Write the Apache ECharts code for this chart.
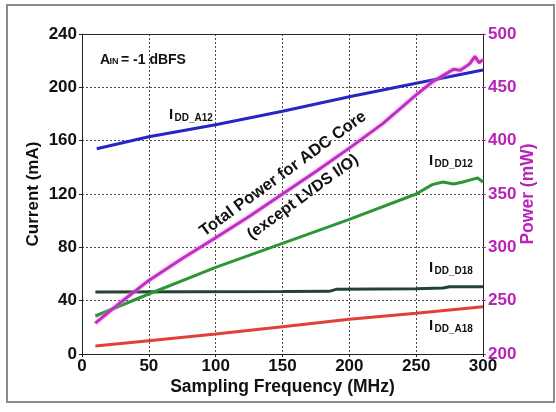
<!DOCTYPE html>
<html>
<head>
<meta charset="utf-8">
<script src="https://cdn.jsdelivr.net/npm/echarts@6/dist/echarts.min.js"></script>
<style>
html,body{margin:0;padding:0;background:#fff;}
#c{width:556px;height:412px;}
</style>
</head>
<body>
<div id="c"></div>
<script>
// ---- data ----
const xTicks = [0, 50, 100, 150, 200, 250, 300];
const currentTicks = [0, 40, 80, 120, 160, 200, 240];
const powerTicks = [200, 250, 300, 350, 400, 450, 500];

const freqA12 = [11, 50, 100, 150, 200, 250, 300];
const iddA12  = [154, 163, 172, 182, 193, 203, 213];

const freqD12 = [10, 50, 100, 150, 200, 250, 262, 270, 278, 285, 292, 296, 300];
const iddD12  = [28.5, 45, 65, 83, 101, 120, 127, 129, 127.5, 129, 131, 132, 129];

const freqD18 = [10, 150, 185, 190, 250, 270, 275, 300];
const iddD18  = [46.5, 46.8, 47, 48.5, 49, 49.5, 50.5, 50.5];

const freqA18 = [10, 50, 100, 150, 200, 250, 300];
const iddA18  = [6, 10, 15, 20.5, 26, 30.5, 35.5];

const freqPow = [10, 30, 50, 75, 100, 125, 150, 175, 200, 225, 250, 262, 270, 278, 283, 290, 294, 297, 300];
const power   = [229, 249.5, 269, 289.5, 309, 329, 350, 371, 393, 416, 443, 455, 461, 467, 466, 472, 479, 473, 476];

const pair = (xs, ys) => xs.map((x, i) => [x, ys[i]]);

const FONT = 'Liberation Sans';
const MAG = '#b824b8';
const GRIDLINE = {show: true, lineStyle: {color: '#4a4a4a', type: [2, 2], width: 1}};

const chart = echarts.init(document.getElementById('c'), null, {renderer: 'canvas'});

function subLabel(x, y, main, sub, size, subSize) {
  return {
    type: 'group', x: x, y: y,
    children: [
      {type: 'text', x: 0, y: 0, style: {text: main, font: 'bold ' + size + 'px "' + FONT + '"', fill: '#111', verticalAlign: 'middle', align: 'left'}},
      {type: 'text', x: size * 0.3 + 1, y: size * 0.22, style: {text: sub, font: 'bold ' + subSize + 'px "' + FONT + '"', fill: '#111', verticalAlign: 'middle', align: 'left'}}
    ]
  };
}

const deg = Math.PI / 180;

chart.setOption({
  animation: false,
  backgroundColor: '#fff',
  grid: {left: 82, right: 73, top: 34, bottom: 58},
  xAxis: [
    {
      type: 'value', min: 0, max: 300, interval: 50,
      name: 'Sampling Frequency (MHz)', nameLocation: 'middle', nameGap: 24, nameMoveOverlap: false,
      nameTextStyle: {fontFamily: FONT, fontWeight: 'bold', fontSize: 17.5, color: '#111'},
      axisLine: {show: true, onZero: false, lineStyle: {color: '#222', width: 1}},
      axisTick: {show: true, length: 3, inside: false, lineStyle: {color: '#222'}},
      axisLabel: {fontFamily: FONT, fontWeight: 'bold', fontSize: 17, color: '#111', margin: 4,
        formatter: v => xTicks.includes(v) ? String(v) : ''},
      splitLine: GRIDLINE
    },
    {
      type: 'value', min: 0, max: 300, interval: 50, position: 'top',
      axisLine: {show: true, onZero: false, lineStyle: {color: '#222', width: 1}},
      axisTick: {show: false}, axisLabel: {show: false}, splitLine: {show: false}
    }
  ],
  yAxis: [
    {
      type: 'value', min: 0, max: 240, interval: 40, position: 'left',
      name: 'Current (mA)', nameLocation: 'middle', nameGap: 40, nameRotate: 90, nameMoveOverlap: false,
      nameTextStyle: {fontFamily: FONT, fontWeight: 'bold', fontSize: 17, color: '#111'},
      axisLine: {show: true, onZero: false, lineStyle: {color: '#222', width: 1}},
      axisTick: {show: true, length: 3, lineStyle: {color: '#222'}},
      axisLabel: {fontFamily: FONT, fontWeight: 'bold', fontSize: 17, color: '#111', margin: 5,
        formatter: v => currentTicks.includes(v) ? String(v) : ''},
      splitLine: GRIDLINE
    },
    {
      type: 'value', min: 200, max: 500, interval: 50, position: 'right',
      name: 'Power (mW)', nameLocation: 'middle', nameGap: 36, nameRotate: 90, nameMoveOverlap: false,
      nameTextStyle: {fontFamily: FONT, fontWeight: 'bold', fontSize: 17.5, color: MAG},
      axisLine: {show: true, onZero: false, lineStyle: {color: '#222', width: 1}},
      axisTick: {show: true, length: 3, lineStyle: {color: MAG}},
      axisLabel: {fontFamily: FONT, fontWeight: 'bold', fontSize: 17, color: MAG, margin: 5,
        formatter: v => powerTicks.includes(v) ? String(v) : ''},
      splitLine: {show: false}
    }
  ],
  series: [
    {type: 'line', name: 'IDD_A18', data: pair(freqA18, iddA18), showSymbol: false, symbol: 'none',
      lineStyle: {color: '#e0403a', width: 3}},
    {type: 'line', name: 'IDD_D18', data: pair(freqD18, iddD18), showSymbol: false, symbol: 'none',
      lineStyle: {color: '#21452f', width: 3}},
    {type: 'line', name: 'IDD_D12', data: pair(freqD12, iddD12), showSymbol: false, symbol: 'none',
      lineStyle: {color: '#2c9636', width: 3}},
    {type: 'line', name: 'IDD_A12', data: pair(freqA12, iddA12), showSymbol: false, symbol: 'none',
      lineStyle: {color: '#2626c4', width: 3}},
    {type: 'line', name: 'Power', yAxisIndex: 1, data: pair(freqPow, power), showSymbol: false, symbol: 'none',
      lineStyle: {color: '#c030c0', width: 3, shadowColor: 'rgba(235,130,235,0.9)', shadowBlur: 3}}
  ],
  graphic: [
    {type: 'rect', shape: {x: 7, y: 5, width: 547, height: 397}, style: {fill: 'none', stroke: '#8a8a8a', lineWidth: 2}, silent: true},
    {type: 'group', x: 100, y: 60, children: [
      {type: 'text', x: 0, y: 0, style: {text: 'A', font: 'bold 14px "' + FONT + '"', fill: '#111', verticalAlign: 'middle'}},
      {type: 'text', x: 9.5, y: 2, style: {text: 'IN', font: 'bold 9px "' + FONT + '"', fill: '#111', verticalAlign: 'middle'}},
      {type: 'text', x: 21, y: 0, style: {text: '= -1 dBFS', font: 'bold 14px "' + FONT + '"', fill: '#111', verticalAlign: 'middle'}}
    ]},
    subLabel(169, 115, 'I', 'DD_A12', 15, 10),
    subLabel(429, 161, 'I', 'DD_D12', 15, 10),
    subLabel(429, 268, 'I', 'DD_D18', 15, 10),
    subLabel(429, 326, 'I', 'DD_A18', 15, 10),
    {type: 'text', x: 283, y: 174, rotation: 36 * deg,
      style: {text: 'Total Power for ADC Core', font: 'bold 16.5px "' + FONT + '"', fill: '#111', align: 'center', verticalAlign: 'middle'}},
    {type: 'text', x: 303, y: 197, rotation: 36 * deg,
      style: {text: '(except LVDS I/O)', font: 'bold 16px "' + FONT + '"', fill: '#111', align: 'center', verticalAlign: 'middle'}}
  ]
});
</script>
</body>
</html>
